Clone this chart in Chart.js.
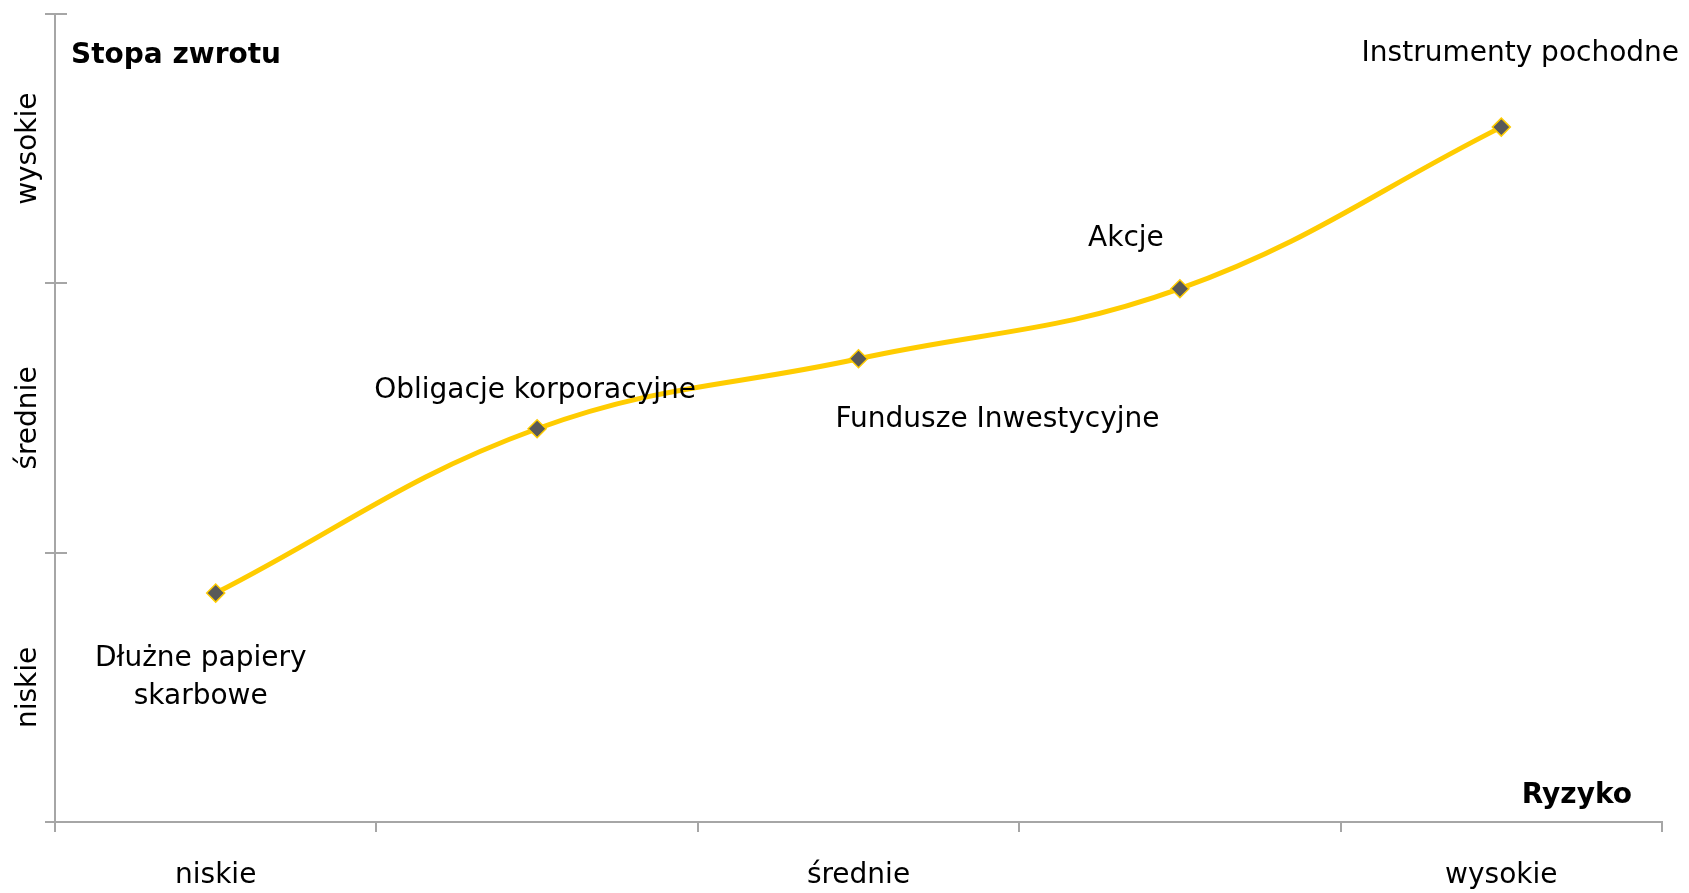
<!DOCTYPE html>
<html>
<head>
<meta charset="utf-8">
<script src="https://cdn.jsdelivr.net/npm/chart.js@4.4.1/dist/chart.umd.min.js"></script>
<style>
  html, body { margin: 0; padding: 0; background: #ffffff; }
  #wrap { width: 1689px; height: 893px; }
</style>
</head>
<body>
<div id="wrap"><canvas id="c" width="1689" height="893"></canvas></div>
<script>
// Investment instruments: risk (x) versus expected return (y)
const instruments = ['Dłużne papiery\nskarbowe', 'Obligacje korporacyjne', 'Fundusze Inwestycyjne', 'Akcje', 'Instrumenty pochodne'];
const riskLevel = [0.5, 1.5, 2.5, 3.5, 4.5];
const returnLevel = [0.85, 1.46, 1.72, 1.98, 2.58];

// Axis tick labels and the values where they sit
const riskTickLabels = ['niskie', 'średnie', 'wysokie'];
const riskTickValues = [0.5, 2.5, 4.5];
const returnTickLabels = ['niskie', 'średnie', 'wysokie'];
const returnTickValues = [0.5, 1.5, 2.5];

const xAxisTitle = 'Ryzyko';
const yAxisTitle = 'Stopa zwrotu';

// Styling
const FONT = "'DejaVu Sans', sans-serif";
const TEXT = '#000000';
const AXIS = '#a6a6a6';
const LINE = '#ffcc00';
const MARKER = '#595959';

// Where each point's caption sits relative to its marker (px)
const captionOffsets = [
  { dx: -15, dy: 66 },
  { dx: -2, dy: -38 },
  { dx: 139, dy: 61 },
  { dx: -54, dy: -50 },
  { dx: 19, dy: -73 }
];

const points = riskLevel.map((x, i) => ({ x: x, y: returnLevel[i] }));

const isWhole = v => Math.abs(v - Math.round(v)) < 1e-9;

const decorations = {
  id: 'decorations',
  afterDraw(chart) {
    const ctx = chart.ctx;
    const area = chart.chartArea;
    const ys = chart.scales.y;
    ctx.save();

    // inner half of the cross-shaped ticks on the return axis
    ctx.strokeStyle = AXIS;
    ctx.lineWidth = 2;
    ys.ticks.forEach(t => {
      if (!isWhole(t.value)) return;
      const py = Math.round(ys.getPixelForValue(t.value));
      ctx.beginPath();
      ctx.moveTo(area.left, py);
      ctx.lineTo(area.left + 12, py);
      ctx.stroke();
    });

    // rotated return-axis labels
    ctx.fillStyle = TEXT;
    ctx.font = '28px ' + FONT;
    ctx.textAlign = 'center';
    ctx.textBaseline = 'middle';
    returnTickValues.forEach((v, i) => {
      const py = ys.getPixelForValue(v);
      ctx.save();
      ctx.translate(29, py);
      ctx.rotate(-Math.PI / 2);
      ctx.fillText(returnTickLabels[i], 0, 0);
      ctx.restore();
    });

    // axis titles placed inside the plot
    ctx.font = 'bold 28px ' + FONT;
    ctx.textAlign = 'left';
    ctx.fillText(yAxisTitle, area.left + 16, 56);
    ctx.textAlign = 'right';
    ctx.fillText(xAxisTitle, area.right - 30, 796);
    ctx.restore();
  },
  afterDatasetsDraw(chart) {
    const ctx = chart.ctx;
    const meta = chart.getDatasetMeta(0);
    ctx.save();
    ctx.fillStyle = TEXT;
    ctx.font = '28px ' + FONT;
    ctx.textAlign = 'center';
    ctx.textBaseline = 'middle';
    meta.data.forEach((el, i) => {
      const off = captionOffsets[i];
      const lines = instruments[i].split('\n');
      lines.forEach((ln, k) => {
        ctx.fillText(ln, el.x + off.dx, el.y + off.dy + k * 38);
      });
    });
    ctx.restore();
  }
};

new Chart(document.getElementById('c'), {
  type: 'line',
  data: {
    datasets: [{
      data: points,
      borderColor: LINE,
      borderWidth: 5,
      tension: 0.4,
      fill: false,
      pointStyle: 'rectRot',
      pointRadius: 9,
      pointHoverRadius: 9,
      pointBackgroundColor: MARKER,
      pointBorderColor: LINE,
      pointBorderWidth: 1.5
    }]
  },
  options: {
    responsive: false,
    animation: false,
    devicePixelRatio: 1,
    layout: { padding: { top: 14, right: 25, left: 0, bottom: 0 } },
    plugins: { legend: { display: false }, tooltip: { enabled: false } },
    scales: {
      x: {
        type: 'linear',
        min: 0,
        max: 5,
        afterFit(scale) { scale.height = 71; },
        border: { color: AXIS, width: 2 },
        grid: {
          drawOnChartArea: false,
          drawTicks: true,
          tickLength: 10,
          lineWidth: 2,
          color: c => (c.tick && isWhole(c.tick.value)) ? AXIS : 'rgba(0,0,0,0)'
        },
        ticks: {
          stepSize: 0.5,
          autoSkip: false,
          maxRotation: 0,
          padding: 27,
          color: TEXT,
          font: { family: FONT, size: 28 },
          callback: v => {
            const i = riskTickValues.indexOf(v);
            return i >= 0 ? riskTickLabels[i] : '';
          }
        }
      },
      y: {
        type: 'linear',
        min: 0,
        max: 3,
        afterFit(scale) { scale.width = 55; },
        border: { color: AXIS, width: 2 },
        grid: {
          drawOnChartArea: false,
          drawTicks: true,
          tickLength: 10,
          lineWidth: 2,
          color: c => (c.tick && isWhole(c.tick.value)) ? AXIS : 'rgba(0,0,0,0)'
        },
        ticks: {
          stepSize: 0.5,
          display: false
        }
      }
    }
  },
  plugins: [decorations]
});
</script>
</body>
</html>
